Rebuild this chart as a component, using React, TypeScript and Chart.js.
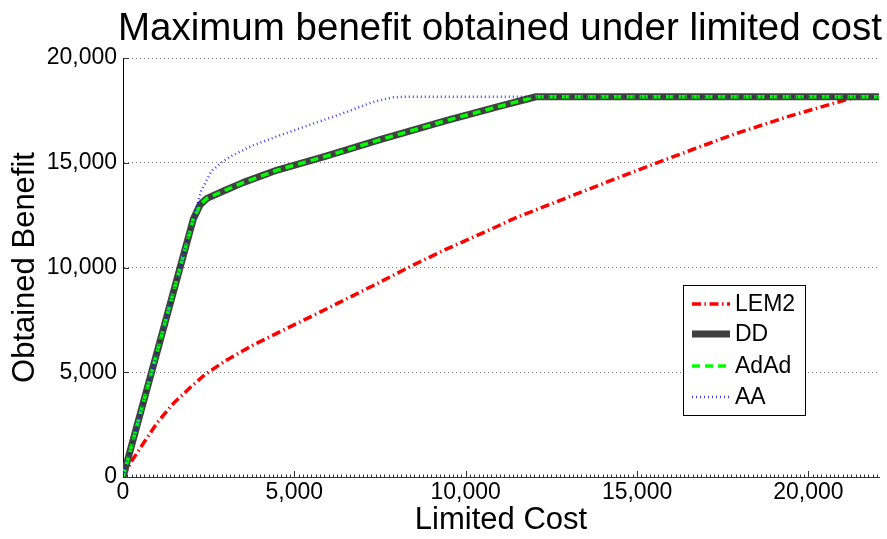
import React, { useEffect, useRef } from "react";
import { Chart, registerables } from "chart.js";

Chart.register(...registerables);

const TITLE = "Maximum benefit obtained under limited cost";
const X_LABEL = "Limited Cost";
const Y_LABEL = "Obtained Benefit";
const X_TICKS = [0, 5000, 10000, 15000, 20000];
const Y_TICKS = [0, 5000, 10000, 15000, 20000];
const X_MAX = 22060;
const Y_MAX = 20000;
const SERIES_NAMES = ["LEM2", "DD", "AdAd", "AA"];

const LEM2_COST = [0, 250, 600, 1000, 1480, 2000, 2400, 3000, 3800, 4600, 5500, 6500, 7500, 8300, 9400, 10500, 11500, 12700, 14000, 15300, 16600, 17900, 19400, 20800, 21450, 22060];
const LEM2_BENEFIT = [0, 750, 1620, 2600, 3530, 4330, 4900, 5560, 6300, 6950, 7670, 8480, 9300, 9980, 10850, 11650, 12400, 13170, 14000, 14820, 15620, 16400, 17200, 17870, 18150, 18150];

const DD_COST = [0, 500, 1000, 1500, 2050, 2250, 2450, 3000, 3500, 4500, 5900, 7500, 9400, 11000, 12050, 22060];
const DD_BENEFIT = [0, 3000, 6000, 9000, 12300, 13000, 13300, 13700, 14050, 14650, 15300, 16100, 17000, 17700, 18150, 18150];

const ADAD_COST = [0, 500, 1000, 1500, 2050, 2250, 2450, 3000, 3500, 4500, 5900, 7500, 9400, 11000, 12050, 22060];
const ADAD_BENEFIT = [0, 3000, 6000, 9000, 12300, 13000, 13300, 13700, 14050, 14650, 15300, 16100, 17000, 17700, 18150, 18150];

const AA_COST = [0, 1000, 2050, 2280, 2580, 2870, 3160, 3750, 4530, 5500, 6480, 7260, 7850, 8200, 22060];
const AA_BENEFIT = [0, 6000, 12300, 13650, 14600, 15010, 15320, 15800, 16280, 16840, 17400, 17880, 18120, 18150, 18150];

const FONT = "'Liberation Sans', Arial, Helvetica, sans-serif";

const toPoints = (xs: number[], ys: number[]) => xs.map((x, i) => ({ x, y: ys[i] }));

const fmt = (v: number) => Number(v).toLocaleString("en-US");

const decorPlugin = {
  id: "decor",
  afterDraw(chart: any) {
    const { ctx, chartArea } = chart;
    const xs = chart.scales.x;
    const ys = chart.scales.y;
    ctx.save();
    // title
    ctx.fillStyle = "#000";
    ctx.font = `38.5px ${FONT}`;
    ctx.textAlign = "center";
    ctx.textBaseline = "alphabetic";
    ctx.fillText(TITLE, (chartArea.left + chartArea.right) / 2 - 1, 40);

    // ticks (inward)
    ctx.strokeStyle = "#333";
    ctx.lineWidth = 1;
    ctx.beginPath();
    for (let v = 0; v <= X_MAX; v += 125) {
      const px = Math.round(xs.getPixelForValue(v)) + 0.5;
      const major = X_TICKS.includes(v);
      ctx.moveTo(px, chartArea.bottom);
      ctx.lineTo(px, chartArea.bottom - (major ? 6 : 2.5));
    }
    Y_TICKS.forEach((v) => {
      const py = Math.round(ys.getPixelForValue(v)) + 0.5;
      ctx.moveTo(chartArea.left, py);
      ctx.lineTo(chartArea.left + 6, py);
    });
    ctx.stroke();

    // legend
    const bx = chartArea.right - 196;
    const by = chartArea.bottom - 192;
    const bw = 122;
    const bh = 130;
    ctx.fillStyle = "#fff";
    ctx.fillRect(bx, by, bw, bh);
    ctx.strokeStyle = "#000";
    ctx.lineWidth = 1;
    ctx.strokeRect(bx + 0.5, by + 0.5, bw, bh);
    const rowY = [19, 49, 81, 112];
    chart.data.datasets.forEach((ds: any, i: number) => {
      const y = by + rowY[i];
      ctx.save();
      ctx.strokeStyle = ds.borderColor;
      ctx.lineWidth = ds.borderWidth;
      ctx.setLineDash(ds.borderDash || []);
      ctx.beginPath();
      ctx.moveTo(bx + 9, y);
      ctx.lineTo(bx + 47, y);
      ctx.stroke();
      ctx.restore();
      ctx.fillStyle = "#000";
      ctx.font = `23px ${FONT}`;
      ctx.textAlign = "left";
      ctx.textBaseline = "middle";
      ctx.fillText(ds.label, bx + 52, y + 1);
    });
    ctx.restore();
  },
};

export default function App() {
  const ref = useRef<HTMLCanvasElement | null>(null);
  useEffect(() => {
    if (!ref.current) return;
    Chart.defaults.font.family = FONT;
    const chart = new Chart(ref.current, {
      type: "line",
      data: {
        datasets: [
          {
            label: SERIES_NAMES[0],
            data: toPoints(LEM2_COST, LEM2_BENEFIT),
            borderColor: "#ff0000",
            borderWidth: 3.5,
            borderDash: [9, 3.5, 1.5, 3.5],
            order: 4,
          },
          {
            label: SERIES_NAMES[1],
            data: toPoints(DD_COST, DD_BENEFIT),
            borderColor: "#404040",
            borderWidth: 7,
            order: 3,
          },
          {
            label: SERIES_NAMES[2],
            data: toPoints(ADAD_COST, ADAD_BENEFIT),
            borderColor: "#00ff00",
            borderWidth: 3.5,
            borderDash: [8, 5],
            order: 2,
          },
          {
            label: SERIES_NAMES[3],
            data: toPoints(AA_COST, AA_BENEFIT),
            borderColor: "rgba(0,0,255,0.75)",
            borderWidth: 2.5,
            borderDash: [1, 3],
            order: 1,
          },
        ] as any,
      },
      options: {
        responsive: false,
        animation: false,
        parsing: true,
        layout: { padding: { top: 58, right: 8, left: 0, bottom: 0 } },
        elements: { point: { radius: 0 }, line: { tension: 0, fill: false, borderCapStyle: "butt", borderJoinStyle: "round" } },
        plugins: {
          legend: { display: false },
          title: { display: false },
          tooltip: { enabled: false },
        },
        scales: {
          x: {
            type: "linear",
            min: 0,
            max: X_MAX,
            afterBuildTicks: (s: any) => {
              s.ticks = X_TICKS.map((v) => ({ value: v }));
            },
            afterFit: (s: any) => {
              s.height = 62;
            },
            grid: { display: false, drawTicks: false },
            border: { display: true, color: "#333", width: 1 },
            ticks: {
              color: "#000",
              font: { size: 23, family: FONT },
              padding: 2,
              maxRotation: 0,
              autoSkip: false,
              callback: (v: any) => fmt(v),
            },
            title: {
              display: true,
              text: X_LABEL,
              color: "#000",
              font: { size: 31, family: FONT },
              padding: { top: 0, bottom: 0 },
            },
          },
          y: {
            type: "linear",
            min: 0,
            max: Y_MAX,
            afterBuildTicks: (s: any) => {
              s.ticks = Y_TICKS.map((v) => ({ value: v }));
            },
            afterFit: (s: any) => {
              s.width = 123;
            },
            grid: { color: "rgba(0,0,0,0.55)", lineWidth: 1, drawTicks: false },
            border: { display: true, color: "#000", width: 1, dash: [1, 3] },
            ticks: {
              color: "#000",
              font: { size: 23, family: FONT },
              padding: 6,
              callback: (v: any) => fmt(v),
            },
            title: {
              display: true,
              text: Y_LABEL,
              color: "#000",
              font: { size: 31, family: FONT },
              padding: { top: 7, bottom: 0 },
            },
          },
        },
      } as any,
      plugins: [decorPlugin],
    });
    return () => chart.destroy();
  }, []);
  return (
    <div style={{ position: "absolute", left: 0, top: 0, width: 887, height: 539, background: "#fff" }}>
      <canvas ref={ref} width={887} height={539} style={{ display: "block" }} />
    </div>
  );
}
